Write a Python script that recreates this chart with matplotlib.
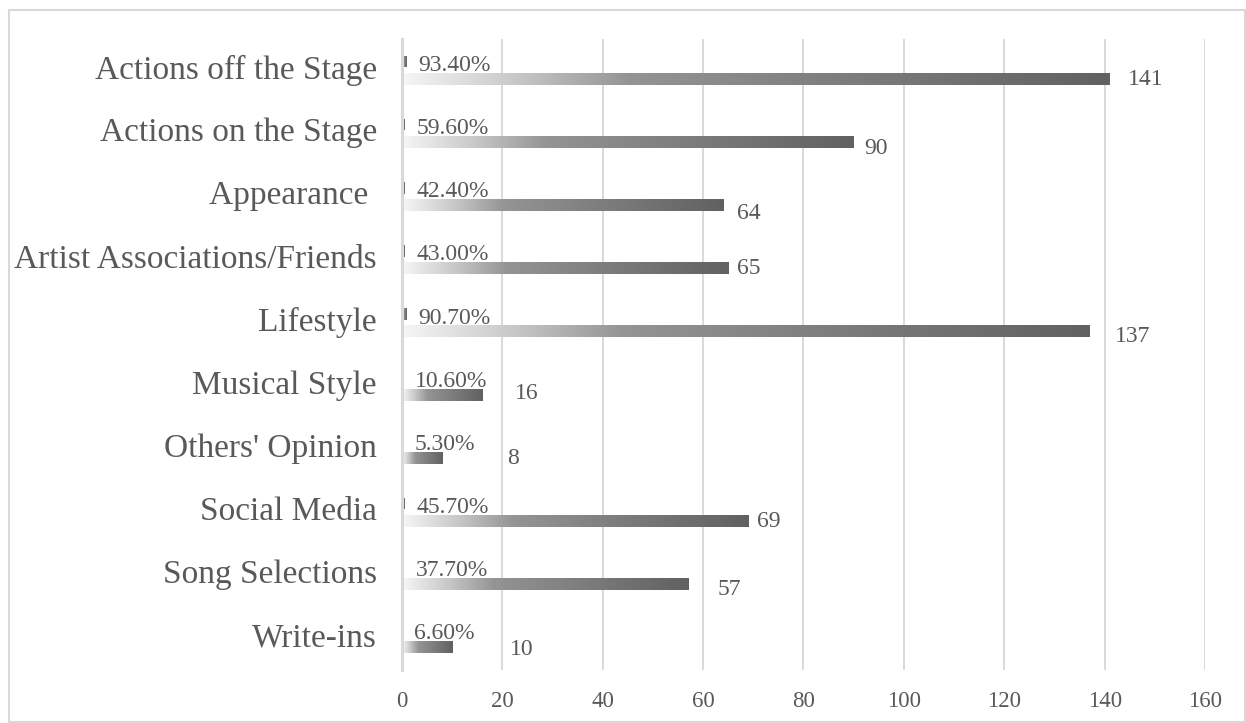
import numpy as np
import matplotlib
matplotlib.use("Agg")
import matplotlib.pyplot as plt
from matplotlib.colors import LinearSegmentedColormap
from matplotlib.patches import Rectangle
from matplotlib.transforms import ScaledTranslation

plt.rcParams['font.family'] = ['Liberation Serif', 'DejaVu Serif']

categories = ["Actions off the Stage", "Actions on the Stage", "Appearance ",
              "Artist Associations/Friends", "Lifestyle", "Musical Style",
              "Others' Opinion", "Social Media", "Song Selections", "Write-ins"]
counts = [141, 90, 64, 65, 137, 16, 8, 69, 57, 10]
shares = [0.934, 0.596, 0.424, 0.430, 0.907, 0.106, 0.053, 0.457, 0.377, 0.066]

# hand-placed label nudges for the count labels (pixels right / down)
count_dx = [18, 11, 14, 9, 25, 33, 65, 9, 30, 58]
count_dy = [0, 6, 8, 0, 5, -1, 1, 1, 6, 3]

text_col = "#595959"
grid_col = "#d9d9d9"

fig = plt.figure(figsize=(12.46, 7.23), dpi=100)
ax = fig.add_axes([0.3226, 0.0733, 0.9671 - 0.3226, 0.9461 - 0.0733])

# outer chart border
fig.patches.append(Rectangle((9 / 1246, 1 - 722 / 723), 1236 / 1246, 712 / 723,
                             transform=fig.transFigure, fill=False,
                             edgecolor=grid_col, lw=1.5))

grad = LinearSegmentedColormap.from_list(
    "grey_fade",
    [(0.0, "#f6f6f6"), (0.15, "#cbcbcb"), (0.32, "#949494"), (1.0, "#616161")])
ramp = np.linspace(0, 1, 256).reshape(1, -1)

y = np.arange(len(categories))
pct_bars = ax.barh(y - 0.14, shares, height=0.18, color="none", lw=0)
cnt_bars = ax.barh(y + 0.135, counts, height=0.19, color="none", lw=0)

for bar in list(pct_bars) + list(cnt_bars):
    x0, y0 = bar.get_x(), bar.get_y()
    w, bh = bar.get_width(), bar.get_height()
    im = ax.imshow(ramp, cmap=grad, aspect="auto", interpolation="bilinear",
                   extent=[x0, x0 + w, y0 + bh, y0], zorder=2)
    im.set_clip_path(bar)

for i, bar in enumerate(pct_bars):
    ax.annotate(f"{shares[i] * 100:.2f}%",
                (bar.get_width(), bar.get_y() + bar.get_height() / 2),
                xytext=(12, -4), textcoords="offset pixels",
                ha="left", va="center", fontsize=17, color=text_col)

for i, bar in enumerate(cnt_bars):
    ax.annotate(str(counts[i]),
                (bar.get_width(), bar.get_y() + bar.get_height() / 2),
                xytext=(count_dx[i], -count_dy[i]), textcoords="offset pixels",
                ha="left", va="center", fontsize=17, color=text_col)

ax.set_xlim(0, 160)
ax.set_ylim(len(categories) - 0.5, -0.5)
ax.set_xticks(range(0, 161, 20))
ax.set_yticks(y)
ax.set_yticklabels(categories, fontsize=24, color=text_col)
ax.tick_params(axis="x", labelsize=16.5, labelcolor=text_col, length=0, pad=15)
ax.tick_params(axis="y", length=0, pad=18)

# category names sit a little above the middle of each bar pair
lift = ScaledTranslation(0, 4 / 100, fig.dpi_scale_trans)
for lab in ax.get_yticklabels():
    lab.set_transform(lab.get_transform() + lift)

ax.grid(axis="x", color=grid_col, lw=1.4, zorder=0)
ax.set_axisbelow(True)
for side in ["top", "right", "bottom"]:
    ax.spines[side].set_visible(False)
ax.spines["left"].set_color(grid_col)
ax.spines["left"].set_linewidth(2.2)

fig.savefig("out.png", dpi=100)
